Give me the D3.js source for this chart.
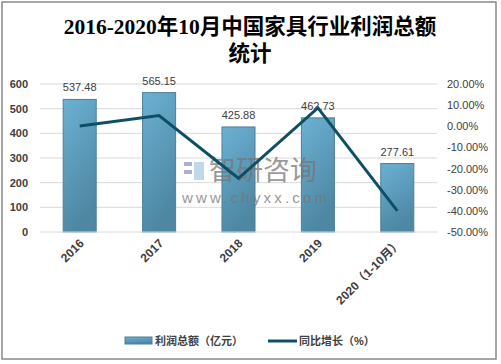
<html>
<head>
<meta charset="utf-8">
<script src="https://cdn.jsdelivr.net/npm/d3@7"></script>
<style>
  body { margin: 0; background: #fff; }
  text { font-family: "Liberation Sans", "Noto Sans CJK SC", sans-serif; }
</style>
</head>
<body>
<script type="text/javascript">

var categories = ["2016", "2017", "2018", "2019", "2020（1-10月）"];
var profit = [537.48, 565.15, 425.88, 462.73, 277.61];
var growth = [0.1, 5.1, -24.6, 8.7, -40.0];
var leftTicks = [0, 100, 200, 300, 400, 500, 600];
var rightTicks = [20, 10, 0, -10, -20, -30, -40, -50];

var width = 501, height = 364;
var svg = d3.select("body").append("svg")
	.attr("width", width)
	.attr("height", height);

// outer frame
svg.append("rect")
	.attr("x", 2).attr("y", 2)
	.attr("width", 494).attr("height", 357)
	.attr("fill", "#fff")
	.attr("stroke", "#888")
	.attr("stroke-width", 1.5);

// title
var title = svg.append("text")
	.attr("text-anchor", "middle")
	.attr("font-size", 21.5)
	.attr("font-weight", "bold")
	.attr("fill", "#000")
	.style("font-family", '"Liberation Serif", "Noto Sans CJK SC", serif');
title.append("tspan").attr("x", 250).attr("y", 34).text("2016-2020年10月中国家具行业利润总额");
title.append("tspan").attr("x", 250).attr("y", 61).text("统计");

var plotL = 40, plotR = 437, plotT = 84, plotB = 232;

var x = d3.scaleBand()
	.domain(categories)
	.range([plotL, plotR])
	.paddingInner(0.584)
	.paddingOuter(0.292);

var y = d3.scaleLinear().domain([0, 600]).range([plotB, plotT]);
var y2 = d3.scaleLinear().domain([-50, 20]).range([plotB, plotT]);

// grid lines
svg.append("g").selectAll("line")
	.data(leftTicks.slice(1))
	.enter().append("line")
	.attr("x1", plotL).attr("x2", plotR)
	.attr("y1", function(d){ return y(d); })
	.attr("y2", function(d){ return y(d); })
	.attr("stroke", "#d9d9d9")
	.attr("stroke-width", 1);

// left axis
var gl = svg.append("g")
	.attr("transform", "translate(" + plotL + ",0)")
	.call(d3.axisLeft(y).tickValues(leftTicks).tickSize(0).tickPadding(12));
gl.select(".domain").remove();
gl.selectAll("text")
	.attr("font-size", 11)
	.attr("font-weight", "bold")
	.attr("fill", "#404040");

// right axis
var gr = svg.append("g")
	.attr("transform", "translate(" + plotR + ",0)")
	.call(d3.axisRight(y2).tickValues(rightTicks).tickSize(0).tickPadding(10)
		.tickFormat(function(d){ return d.toFixed(2) + "%"; }));
gr.select(".domain").remove();
gr.selectAll("text")
	.attr("font-size", 11)
	.attr("fill", "#404040");

// gradient for bars
var defs = svg.append("defs");
var grad = defs.append("linearGradient")
	.attr("id", "barGrad")
	.attr("x1", "0").attr("y1", "0").attr("x2", "0.35").attr("y2", "1");
grad.append("stop").attr("offset", "0%").attr("stop-color", "#6cb1d3");
grad.append("stop").attr("offset", "100%").attr("stop-color", "#4d87a2");

svg.append("g").selectAll("rect")
	.data(profit)
	.enter().append("rect")
	.attr("x", function(d, i){ return x(categories[i]); })
	.attr("y", function(d){ return y(d); })
	.attr("width", x.bandwidth())
	.attr("height", function(d){ return plotB - y(d); })
	.attr("fill", "url(#barGrad)")
	.attr("stroke", "#4e7f98")
	.attr("stroke-width", 1);

// baseline
svg.append("line")
	.attr("x1", plotL).attr("x2", plotR)
	.attr("y1", plotB).attr("y2", plotB)
	.attr("stroke", "#d9d9d9");

// watermark
var wm = svg.append("g").attr("opacity", 0.75);
wm.append("rect").attr("x", 184).attr("y", 162).attr("width", 8).attr("height", 4).attr("fill", "#8a9ab8");
wm.append("rect").attr("x", 184).attr("y", 170).attr("width", 8).attr("height", 4).attr("fill", "#8a9ab8");
wm.append("rect").attr("x", 194).attr("y", 162).attr("width", 10).attr("height", 18).attr("fill", "#a9cde8");
wm.append("text")
	.attr("x", 209).attr("y", 180)
	.attr("font-size", 27)
	.attr("fill", "#777")
	.style("font-family", '"Noto Sans CJK SC", sans-serif')
	.text("智研咨询");
wm.append("text")
	.attr("x", 182).attr("y", 203)
	.attr("font-size", 15)
	.attr("letter-spacing", 3.2)
	.attr("fill", "#777")
	.text("www.chyxx.com");

// growth line
var line = d3.line()
	.x(function(d, i){ return x(categories[i]) + x.bandwidth() / 2; })
	.y(function(d){ return y2(d); });
svg.append("path")
	.datum(growth)
	.attr("d", line)
	.attr("fill", "none")
	.attr("stroke", "#0e4f66")
	.attr("stroke-width", 3);

// value labels
svg.append("g").selectAll("text")
	.data(profit)
	.enter().append("text")
	.attr("x", function(d, i){ return x(categories[i]) + x.bandwidth() / 2; })
	.attr("y", function(d){ return y(d) - 8; })
	.attr("text-anchor", "middle")
	.attr("font-size", 11)
	.attr("fill", "#404040")
	.text(function(d){ return d.toFixed(2); });

// x labels
svg.append("g").selectAll("text")
	.data(categories)
	.enter().append("text")
	.attr("transform", function(d){
		return "translate(" + (x(d) + x.bandwidth() / 2 + 5) + "," + (plotB + 12) + ") rotate(-45)";
	})
	.attr("text-anchor", "end")
	.attr("font-size", 12)
	.attr("font-weight", "bold")
	.attr("fill", "#404040")
	.text(function(d){ return d; });

// legend
var lg = svg.append("g");
lg.append("rect")
	.attr("x", 125).attr("y", 337).attr("width", 27).attr("height", 7)
	.attr("fill", "url(#barGrad)").attr("stroke", "#4e7f98");
lg.append("text")
	.attr("x", 155).attr("y", 345)
	.attr("font-size", 11).attr("font-weight", "bold").attr("fill", "#404040")
	.text("利润总额（亿元）");
lg.append("line")
	.attr("x1", 268).attr("x2", 297).attr("y1", 341).attr("y2", 341)
	.attr("stroke", "#0e4f66").attr("stroke-width", 3);
lg.append("text")
	.attr("x", 299).attr("y", 345)
	.attr("font-size", 11).attr("font-weight", "bold").attr("fill", "#404040")
	.text("同比增长（%）");

</script>
</body>
</html>
